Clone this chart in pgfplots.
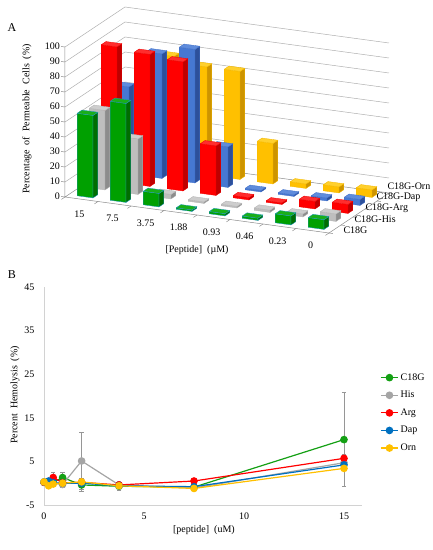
\documentclass[border=0pt]{standalone}
\usepackage{pgfplots}
\usepackage{pgfplotstable}
\pgfplotsset{compat=1.18}
\usepackage{fontspec}
\setmainfont{Liberation Serif}
% panel A colours
\definecolor{gF}{RGB}{0,160,0}\definecolor{gS}{RGB}{0,110,0}\definecolor{gT}{RGB}{25,175,25}\definecolor{gE}{RGB}{30,150,190}
\definecolor{kF}{RGB}{190,190,190}\definecolor{kS}{RGB}{140,140,140}\definecolor{kT}{RGB}{205,205,205}\definecolor{kE}{RGB}{180,180,180}
\definecolor{rF}{RGB}{255,0,0}\definecolor{rS}{RGB}{190,0,0}\definecolor{rT}{RGB}{255,45,45}\definecolor{rE}{RGB}{240,0,0}
\definecolor{bF}{RGB}{70,120,210}\definecolor{bS}{RGB}{45,80,155}\definecolor{bT}{RGB}{95,140,220}\definecolor{bE}{RGB}{65,112,200}
\definecolor{yF}{RGB}{255,192,0}\definecolor{yS}{RGB}{205,148,0}\definecolor{yT}{RGB}{255,208,45}\definecolor{yE}{RGB}{245,185,0}
\definecolor{wall}{RGB}{175,175,175}
% panel B colours
\definecolor{cG}{RGB}{20,160,20}\definecolor{cK}{RGB}{165,165,165}\definecolor{cR}{RGB}{255,0,0}
\definecolor{cB}{RGB}{0,112,192}\definecolor{cY}{RGB}{255,192,0}\definecolor{ebar}{RGB}{150,150,150}
\definecolor{axl}{RGB}{210,210,210}

% one 3D bar: #1 category index, #2 series index, #3 value, #4 colour prefix
\newcommand{\bbar}[4]{%
  \pgfmathsetmacro\xa{#1+0.26}\pgfmathsetmacro\xb{#1+0.74}%
  \pgfmathsetmacro\ya{#2+0.3}\pgfmathsetmacro\yb{#2+0.7}%
  \edef\tmp{%
  \noexpand\addplot3[draw=#4E,fill=#4F,line width=0.35pt,mark=none] coordinates {(\xa,\ya,0) (\xb,\ya,0) (\xb,\ya,#3) (\xa,\ya,#3) (\xa,\ya,0)};
  \noexpand\addplot3[draw=#4E,fill=#4S,line width=0.35pt,mark=none] coordinates {(\xb,\ya,0) (\xb,\yb,0) (\xb,\yb,#3) (\xb,\ya,#3) (\xb,\ya,0)};
  \noexpand\addplot3[draw=#4E,fill=#4T,line width=0.35pt,mark=none] coordinates {(\xa,\ya,#3) (\xb,\ya,#3) (\xb,\yb,#3) (\xa,\yb,#3) (\xa,\ya,#3)};
  }\tmp}

\pgfplotstableread{
x    c18g c18ge his  hise arg  arge dap  dape orn  orne
0    0.2  0     0.2  0    0.2  0    0.3  0    0.3  0
0.23 0.1  0     0.2  0    0.3  0    0.5  0    -0.6 0
0.46 0.2  0     0.0  0    1.3  1.2  0.1  0    -0.2 0
0.93 1.3  1.2   -0.3 0.6  0.1  0.3  0.0  0    0.0  0
1.88 -0.4 1.4   5.1  6.5  0.2  0.6  0.0  0    0.3  0
3.75 -0.7 1.0   -0.4 0.5  -0.4 0.4  -0.6 0    -0.6 0
7.5  -0.9 0.4   -1.1 0.4  0.5  0.4  -0.8 0    -1.2 0
15   10.0 10.8  4.7  0.6  5.7  1.0  4.2  0    3.4  0
}\tabB

\begin{document}
\begin{tikzpicture}
\fontsize{10}{12}\selectfont
% ---------------- Panel A ----------------
\begin{axis}[
  hide axis, clip=false,
  x={(33pt,-4.5pt)}, y={(12pt,8pt)}, z={(0pt,1.5pt)},
  xmin=0, xmax=8, ymin=0, ymax=5, zmin=0, zmax=100,
  anchor=origin, at={(65pt,353pt)},
]
% walls with grid lines
\pgfplotsinvokeforeach{10,20,...,100}{
  \addplot3[wall, line width=0.5pt, mark=none] coordinates {(0,0,#1) (0,5,#1) (8,5,#1)};
  \addplot3[wall!80!black, line width=0.5pt, mark=none] coordinates {(0,0,#1) (-0.12,0,#1)};
  \node[anchor=east, inner sep=0pt] at (axis cs:-0.15,0,#1) {#1};
}
\node[anchor=east, inner sep=0pt] at (axis cs:-0.15,0,0) {0};
\addplot3[wall!80!black, line width=0.5pt, mark=none] coordinates {(0,0,100) (0,0,0) (8,0,0) (8,5,0) (0,5,0) (0,0,0)};
\addplot3[wall!80!black, line width=0.5pt, mark=none] coordinates {(-0.12,0,0) (0,0,0)};
\pgfplotsinvokeforeach{0,...,8}{
  \addplot3[wall!80!black, line width=0.5pt, mark=none] coordinates {(#1,0,0) (#1,-0.3,0)};
}
\pgfplotsinvokeforeach{0,...,5}{
  \addplot3[wall!80!black, line width=0.5pt, mark=none] coordinates {(8,#1,0) (8.12,#1,0)};
}
% bars, back row first
% C18G-Orn
\bbar{0}{4}{50}{y}\bbar{1}{4}{76}{y}\bbar{2}{4}{72}{y}\bbar{3}{4}{72}{y}
\bbar{4}{4}{27}{y}\bbar{5}{4}{3}{y}\bbar{6}{4}{4}{y}\bbar{7}{4}{5}{y}
% C18G-Dap
\bbar{0}{3}{58}{b}\bbar{1}{3}{83}{b}\bbar{2}{3}{89}{b}\bbar{3}{3}{27}{b}
\bbar{4}{3}{1}{b}\bbar{5}{3}{1}{b}\bbar{6}{3}{2}{b}\bbar{7}{3}{4}{b}
% C18G-Arg
\bbar{0}{2}{90}{r}\bbar{1}{2}{88}{r}\bbar{2}{2}{86}{r}\bbar{3}{2}{33}{r}
\bbar{4}{2}{1.5}{r}\bbar{5}{2}{1}{r}\bbar{6}{2}{5}{r}\bbar{7}{2}{6}{r}
% C18G-His
\bbar{0}{1}{53}{k}\bbar{1}{1}{37}{k}\bbar{2}{1}{3}{k}\bbar{3}{1}{1}{k}
\bbar{4}{1}{1}{k}\bbar{5}{1}{1.5}{k}\bbar{6}{1}{2}{k}\bbar{7}{1}{5}{k}
% C18G
\bbar{0}{0}{55}{g}\bbar{1}{0}{66}{g}\bbar{2}{0}{9}{g}\bbar{3}{0}{1}{g}
\bbar{4}{0}{1.5}{g}\bbar{5}{0}{1.5}{g}\bbar{6}{0}{6}{g}\bbar{7}{0}{6.5}{g}
% category labels
\node[anchor=north, yshift=-8pt, xshift=-2pt] at (axis cs:0.5,0,0) {15};
\node[anchor=north, yshift=-8pt, xshift=-2pt] at (axis cs:1.5,0,0) {7.5};
\node[anchor=north, yshift=-8pt, xshift=-2pt] at (axis cs:2.5,0,0) {3.75};
\node[anchor=north, yshift=-8pt, xshift=-2pt] at (axis cs:3.5,0,0) {1.88};
\node[anchor=north, yshift=-8pt, xshift=-2pt] at (axis cs:4.5,0,0) {0.93};
\node[anchor=north, yshift=-8pt, xshift=-2pt] at (axis cs:5.5,0,0) {0.46};
\node[anchor=north, yshift=-8pt, xshift=-2pt] at (axis cs:6.5,0,0) {0.23};
\node[anchor=north, yshift=-8pt, xshift=-2pt] at (axis cs:7.5,0,0) {0};
\node[anchor=west, xshift=5pt, yshift=-1pt] at (axis cs:8,0.5,0) {C18G};
\node[anchor=west, xshift=4pt, yshift=2pt] at (axis cs:8,1.5,0) {C18G-His};
\node[anchor=west, xshift=3pt, yshift=5pt] at (axis cs:8,2.5,0) {C18G-Arg};
\node[anchor=west, xshift=2pt, yshift=8pt] at (axis cs:8,3.5,0) {C18G-Dap};
\node[anchor=west, xshift=1pt, yshift=11pt] at (axis cs:8,4.5,0) {C18G-Orn};
\end{axis}
\node[rotate=90] at (27pt,431pt) {Percentage\ \ of\ \ Permeable\ \ Cells\ \ (\%)};
\node at (197pt,300pt) {[Peptide]\ \ (µM)};
\node[font=\fontsize{12}{14}\selectfont] at (12pt,522pt) {A};
\node[font=\fontsize{12}{14}\selectfont] at (12pt,275pt) {B};
% ---------------- Panel B ----------------
\begin{axis}[
  at={(44pt,45pt)}, anchor=south west,
  scale only axis, width=318pt, height=218pt,
  xmin=0, xmax=15.9, ymin=-5, ymax=45,
  axis lines*=left, axis line style={axl, line width=0.8pt},
  major tick length=0pt,
  xtick={0,5,10,15}, ytick={-5,5,15,25,35,45},
  /pgf/number format/assume math mode=true,
  tick label style={font=\fontsize{10}{12}\selectfont},
  xticklabel style={yshift=-4pt},
  yticklabel style={xshift=-6pt},
  clip=false,
  xlabel={[peptide]\ \ (uM)},
  ylabel={Percent\ \ Hemolysis\ \ (\%)},
  label style={font=\fontsize{10}{12}\selectfont},
  xlabel style={at={(axis description cs:0.503,-0.115)}, anchor=center},
  ylabel style={at={(axis description cs:-0.091,0.505)}, anchor=center},
  legend style={at={(1.057,0.613)}, anchor=north west, draw=none, fill=none,
    font=\fontsize{10}{12}\selectfont, row sep=5.5pt, inner sep=0pt},
  legend cell align=left,
]
\addplot[color=cG, line width=1.2pt, mark=*, mark size=3.2pt,
  error bars/.cd, y dir=both, y explicit,
  error bar style={color=ebar, line width=0.8pt},
  error mark options={color=ebar, line width=0.8pt, mark size=2.2pt, rotate=90}]
  table[x=x, y=c18g, y error=c18ge] {\tabB};
\addlegendentry{C18G}
\addplot[color=cK, line width=1.2pt, mark=*, mark size=3.2pt,
  error bars/.cd, y dir=both, y explicit,
  error bar style={color=ebar, line width=0.8pt},
  error mark options={color=ebar, line width=0.8pt, mark size=2.2pt, rotate=90}]
  table[x=x, y=his, y error=hise] {\tabB};
\addlegendentry{His}
\addplot[color=cR, line width=1.2pt, mark=*, mark size=3.2pt,
  error bars/.cd, y dir=both, y explicit,
  error bar style={color=ebar, line width=0.8pt},
  error mark options={color=ebar, line width=0.8pt, mark size=2.2pt, rotate=90}]
  table[x=x, y=arg, y error=arge] {\tabB};
\addlegendentry{Arg}
\addplot[color=cB, line width=1.2pt, mark=*, mark size=3.2pt]
  table[x=x, y=dap] {\tabB};
\addlegendentry{Dap}
\addplot[color=cY, line width=1.2pt, mark=*, mark size=3.2pt]
  table[x=x, y=orn] {\tabB};
\addlegendentry{Orn}
\end{axis}
\pgfresetboundingbox
\path[use as bounding box] (0pt,0pt) rectangle (433pt,550pt);
\end{tikzpicture}
\end{document}
